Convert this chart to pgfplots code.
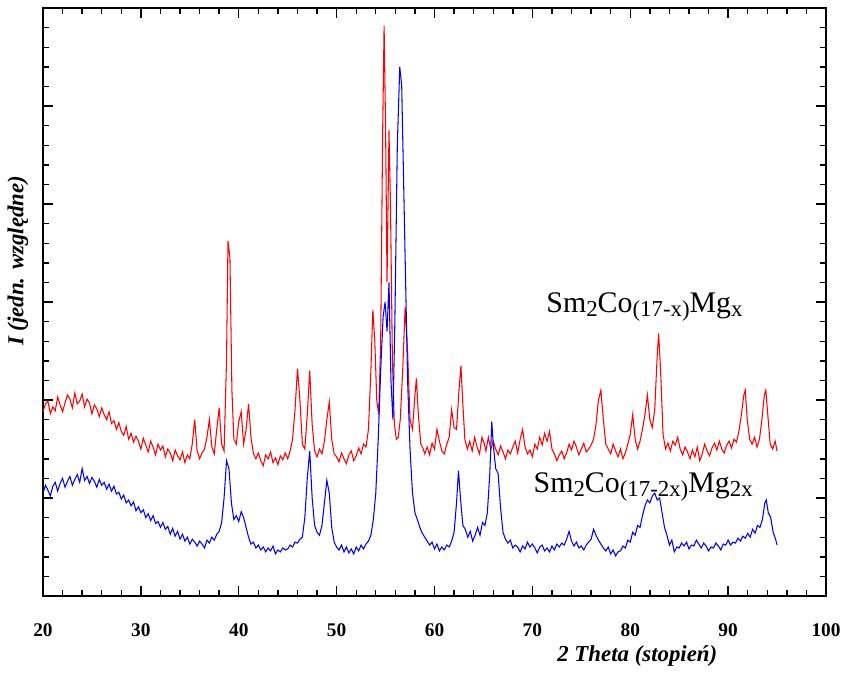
\documentclass[border=0pt]{standalone}
\usepackage{fontspec}
\setmainfont{Liberation Serif}
\usepackage{pgfplots}
\pgfplotsset{compat=1.18}

% XRD patterns, intensity in arbitrary units
\pgfplotstableread{
x y
20.00 1.88
20.25 1.96
20.50 1.99
20.75 1.86
21.00 1.93
21.25 1.89
21.50 2.03
21.75 1.95
22.00 1.88
22.25 1.97
22.50 2.05
22.75 2.01
23.00 1.92
23.25 2.07
23.50 1.96
23.75 1.99
24.00 2.06
24.25 1.93
24.50 2.01
24.75 1.97
25.00 1.86
25.25 1.95
25.50 1.91
25.75 1.83
26.00 1.92
26.25 1.85
26.50 1.80
26.75 1.88
27.00 1.76
27.25 1.79
27.50 1.70
27.75 1.77
28.00 1.68
28.25 1.64
28.50 1.73
28.75 1.60
29.00 1.66
29.25 1.57
29.50 1.63
29.75 1.58
30.00 1.50
30.25 1.61
30.50 1.54
30.75 1.47
31.00 1.58
31.25 1.52
31.50 1.44
31.75 1.55
32.00 1.49
32.25 1.53
32.50 1.42
32.75 1.50
33.00 1.46
33.25 1.38
33.50 1.49
33.75 1.43
34.00 1.39
34.25 1.47
34.50 1.36
34.75 1.44
35.00 1.40
35.25 1.55
35.50 1.80
35.75 1.48
36.00 1.40
36.25 1.46
36.50 1.50
36.75 1.62
37.00 1.80
37.25 1.52
37.50 1.45
37.75 1.70
38.00 1.92
38.25 1.55
38.50 1.48
38.75 2.40
38.90 3.62
39.10 3.45
39.30 2.10
39.50 1.60
39.75 1.55
40.00 1.78
40.25 1.88
40.50 1.55
40.75 1.70
41.00 1.96
41.25 1.62
41.50 1.45
41.75 1.40
42.00 1.46
42.25 1.38
42.50 1.33
42.75 1.44
43.00 1.40
43.25 1.47
43.50 1.36
43.75 1.41
44.00 1.34
44.25 1.43
44.50 1.39
44.75 1.46
45.00 1.40
45.25 1.48
45.50 1.60
45.75 1.90
46.00 2.32
46.25 2.00
46.50 1.55
46.75 1.50
47.00 1.85
47.25 2.30
47.50 1.75
47.75 1.48
48.00 1.42
48.25 1.50
48.50 1.45
48.75 1.58
49.00 1.80
49.25 1.98
49.50 1.60
49.75 1.45
50.00 1.42
50.25 1.37
50.50 1.46
50.75 1.40
51.00 1.35
51.25 1.44
51.50 1.48
51.75 1.38
52.00 1.43
52.25 1.51
52.50 1.45
52.75 1.55
53.00 1.52
53.25 1.70
53.50 2.30
53.70 2.92
53.90 2.60
54.10 2.00
54.30 1.85
54.50 2.60
54.70 4.70
54.85 5.82
55.00 4.80
55.15 3.20
55.35 4.75
55.50 4.00
55.70 2.40
55.90 1.75
56.10 1.60
56.30 1.62
56.50 1.80
56.75 2.30
57.00 2.95
57.25 2.50
57.50 1.80
57.75 1.70
58.00 2.05
58.15 2.22
58.35 1.85
58.60 1.55
58.85 1.50
59.00 1.45
59.25 1.52
59.50 1.44
59.75 1.56
60.00 1.50
60.25 1.70
60.50 1.58
60.75 1.48
61.00 1.45
61.25 1.55
61.50 1.62
61.75 1.90
62.00 1.72
62.25 1.70
62.50 2.10
62.70 2.35
62.90 1.95
63.10 1.60
63.35 1.50
63.60 1.58
63.85 1.48
64.10 1.62
64.35 1.52
64.60 1.45
64.85 1.62
65.10 1.55
65.25 1.48
65.50 1.62
65.75 1.50
66.00 1.58
66.25 1.50
66.50 1.44
66.75 1.53
67.00 1.47
67.25 1.40
67.50 1.49
67.75 1.45
68.00 1.52
68.25 1.58
68.50 1.46
68.75 1.60
69.00 1.70
69.25 1.52
69.50 1.45
69.75 1.49
70.00 1.42
70.25 1.55
70.50 1.50
70.75 1.62
71.00 1.54
71.25 1.66
71.50 1.58
71.75 1.68
72.00 1.50
72.25 1.45
72.50 1.38
72.75 1.44
73.00 1.48
73.25 1.40
73.50 1.46
73.75 1.55
74.00 1.49
74.25 1.58
74.50 1.52
74.75 1.44
75.00 1.50
75.25 1.56
75.50 1.47
75.75 1.50
76.00 1.54
76.25 1.60
76.50 1.75
76.75 2.00
77.00 2.10
77.25 1.80
77.50 1.55
77.75 1.50
78.00 1.45
78.25 1.55
78.50 1.48
78.75 1.42
79.00 1.50
79.25 1.40
79.50 1.46
79.75 1.55
80.00 1.65
80.25 1.85
80.50 1.60
80.75 1.50
81.00 1.58
81.25 1.70
81.50 1.85
81.75 2.05
82.00 1.80
82.25 1.72
82.50 1.90
82.75 2.45
82.90 2.68
83.10 2.30
83.35 1.65
83.60 1.50
83.85 1.56
84.10 1.48
84.35 1.58
84.60 1.54
84.85 1.62
85.10 1.50
85.35 1.44
85.60 1.52
85.85 1.47
86.10 1.40
86.35 1.49
86.60 1.42
86.85 1.52
87.10 1.38
87.35 1.45
87.60 1.55
87.85 1.48
88.10 1.43
88.35 1.51
88.60 1.56
88.85 1.49
89.10 1.58
89.35 1.50
89.60 1.46
89.85 1.54
90.10 1.58
90.35 1.51
90.60 1.60
90.85 1.57
91.10 1.68
91.35 1.85
91.60 2.05
91.75 2.10
91.95 1.80
92.20 1.60
92.45 1.55
92.70 1.62
92.95 1.52
93.20 1.60
93.45 1.80
93.70 2.05
93.85 2.10
94.05 1.85
94.30 1.55
94.55 1.50
94.80 1.58
95.00 1.48
}\redtab

\pgfplotstableread{
x y
20.00 1.05
20.25 1.13
20.50 1.08
20.75 1.02
21.00 1.12
21.25 1.16
21.50 1.07
21.75 1.15
22.00 1.20
22.25 1.11
22.50 1.17
22.75 1.22
23.00 1.13
23.25 1.19
23.50 1.24
23.75 1.16
24.00 1.30
24.25 1.18
24.50 1.22
24.75 1.15
25.00 1.21
25.25 1.17
25.50 1.11
25.75 1.19
26.00 1.13
26.25 1.16
26.50 1.09
26.75 1.14
27.00 1.07
27.25 1.12
27.50 1.04
27.75 1.06
28.00 0.99
28.25 1.03
28.50 0.95
28.75 0.98
29.00 0.92
29.25 0.96
29.50 0.87
29.75 0.91
30.00 0.85
30.25 0.88
30.50 0.80
30.75 0.84
31.00 0.77
31.25 0.82
31.50 0.74
31.75 0.76
32.00 0.70
32.25 0.75
32.50 0.68
32.75 0.71
33.00 0.63
33.25 0.69
33.50 0.61
33.75 0.66
34.00 0.58
34.25 0.63
34.50 0.56
34.75 0.60
35.00 0.53
35.25 0.58
35.50 0.55
35.75 0.51
36.00 0.56
36.25 0.53
36.50 0.49
36.75 0.57
37.00 0.54
37.25 0.60
37.50 0.57
37.75 0.63
38.00 0.66
38.25 0.75
38.50 1.00
38.75 1.38
39.00 1.30
39.25 0.95
39.50 0.78
39.75 0.82
40.00 0.76
40.25 0.86
40.50 0.80
40.75 0.70
41.00 0.60
41.25 0.53
41.50 0.55
41.75 0.49
42.00 0.52
42.25 0.47
42.50 0.50
42.75 0.45
43.00 0.49
43.25 0.46
43.50 0.51
43.75 0.43
44.00 0.47
44.25 0.45
44.50 0.49
44.75 0.47
45.00 0.48
45.25 0.52
45.50 0.50
45.75 0.55
46.00 0.54
46.25 0.58
46.50 0.60
46.75 0.80
47.00 1.20
47.25 1.48
47.50 1.00
47.75 0.72
48.00 0.65
48.25 0.62
48.50 0.72
48.75 0.95
49.00 1.18
49.25 1.05
49.50 0.70
49.75 0.55
50.00 0.50
50.25 0.47
50.50 0.52
50.75 0.45
51.00 0.50
51.25 0.44
51.50 0.48
51.75 0.43
52.00 0.50
52.25 0.46
52.50 0.52
52.75 0.48
53.00 0.53
53.25 0.56
53.50 0.62
53.75 0.78
54.00 1.05
54.25 1.60
54.50 2.30
54.75 2.85
54.95 3.00
55.15 2.70
55.35 3.20
55.55 2.20
55.75 1.80
55.95 2.80
56.20 4.60
56.45 5.40
56.65 5.20
56.85 4.20
57.05 3.20
57.25 2.20
57.50 1.50
57.75 1.05
58.00 0.85
58.25 0.78
58.50 0.70
58.75 0.64
59.00 0.60
59.25 0.56
59.50 0.52
59.75 0.55
60.00 0.48
60.25 0.53
60.50 0.46
60.75 0.50
61.00 0.47
61.25 0.52
61.50 0.50
61.75 0.56
62.00 0.65
62.25 0.95
62.45 1.28
62.65 1.00
62.90 0.72
63.15 0.68
63.40 0.60
63.65 0.66
63.90 0.56
64.15 0.62
64.40 0.70
64.65 0.62
64.90 0.75
65.15 0.72
65.40 0.85
65.65 1.25
65.85 1.78
66.00 1.55
66.25 1.30
66.50 1.25
66.75 0.90
67.00 0.65
67.25 0.58
67.50 0.54
67.75 0.57
68.00 0.49
68.25 0.52
68.50 0.50
68.75 0.45
69.00 0.51
69.25 0.48
69.50 0.55
69.75 0.50
70.00 0.53
70.25 0.49
70.50 0.44
70.75 0.50
71.00 0.52
71.25 0.46
71.50 0.49
71.75 0.45
72.00 0.51
72.25 0.47
72.50 0.53
72.75 0.50
73.00 0.54
73.25 0.52
73.50 0.58
73.75 0.66
74.00 0.56
74.25 0.51
74.50 0.55
74.75 0.49
75.00 0.51
75.25 0.47
75.50 0.52
75.75 0.55
76.00 0.58
76.25 0.68
76.50 0.62
76.75 0.57
77.00 0.53
77.25 0.49
77.50 0.46
77.75 0.50
78.00 0.43
78.25 0.47
78.50 0.41
78.75 0.45
79.00 0.46
79.25 0.51
79.50 0.49
79.75 0.57
80.00 0.55
80.25 0.65
80.50 0.62
80.75 0.72
81.00 0.70
81.25 0.82
81.50 0.92
81.75 0.98
82.00 0.95
82.25 1.02
82.50 1.05
82.75 0.98
83.00 1.00
83.25 0.85
83.50 0.70
83.75 0.62
84.00 0.52
84.25 0.57
84.50 0.45
84.75 0.50
85.00 0.49
85.25 0.54
85.50 0.51
85.75 0.55
86.00 0.48
86.25 0.52
86.50 0.51
86.75 0.57
87.00 0.53
87.25 0.49
87.50 0.54
87.75 0.51
88.00 0.46
88.25 0.50
88.50 0.49
88.75 0.54
89.00 0.51
89.25 0.47
89.50 0.53
89.75 0.52
90.00 0.57
90.25 0.52
90.50 0.55
90.75 0.54
91.00 0.59
91.25 0.56
91.50 0.61
91.75 0.59
92.00 0.64
92.25 0.60
92.50 0.68
92.75 0.64
93.00 0.72
93.25 0.70
93.50 0.78
93.75 0.95
93.90 0.98
94.10 0.85
94.35 0.80
94.60 0.65
94.85 0.58
95.00 0.52
}\bluetab

\newcommand{\sub}[1]{\raisebox{-0.3ex}{\fontsize{13}{13}\selectfont #1}}

\begin{document}
\begin{tikzpicture}
\begin{axis}[
  width=15.66cm, height=11.76cm, scale only axis,
  xmin=20, xmax=100, ymin=0, ymax=6,
  xtick={20,30,...,100}, ytick={0,1,...,6},
  minor x tick num=4, minor y tick num=4,
  yticklabels={},
  tick align=inside,
  major tick length=0.2cm, minor tick length=0.12cm,
  axis line style={line width=1pt},
  every tick/.style={black, line width=0.8pt},
  /pgf/number format/assume math mode=true,
  xticklabel style={font=\fontsize{11}{13}\selectfont\bfseries, yshift=-0.42cm},
  xlabel={2 Theta (stopień)},
  ylabel={I (jedn. względne)},
  label style={font=\fontsize{13}{15}\selectfont\bfseries\itshape},
  xlabel style={at={(axis description cs:0.759,-0.102)}, anchor=center},
  ylabel style={at={(axis description cs:-0.032,0.57)}, anchor=center},
]
  \coordinate (sw) at (rel axis cs:0,0);
  \coordinate (ne) at (rel axis cs:1,1);
  \addplot[red, line width=0.6pt] table {\redtab};
  \addplot[blue, line width=0.6pt] table {\bluetab};
  \node[anchor=base west, font=\fontsize{17}{19}\selectfont] at (axis cs:70.8,2.89)
    {Sm\sub{2}Co\sub{(17-x)}Mg\sub{x}};
  \node[anchor=base west, font=\fontsize{17}{19}\selectfont] at (axis cs:69.5,1.06)
    {Sm\sub{2}Co\sub{(17-2x)}Mg\sub{2x}};
\end{axis}
\path ([shift={(-0.86cm,-1.44cm)}]sw) rectangle ([shift={(0.44cm,0.16cm)}]ne);
\end{tikzpicture}
\end{document}
